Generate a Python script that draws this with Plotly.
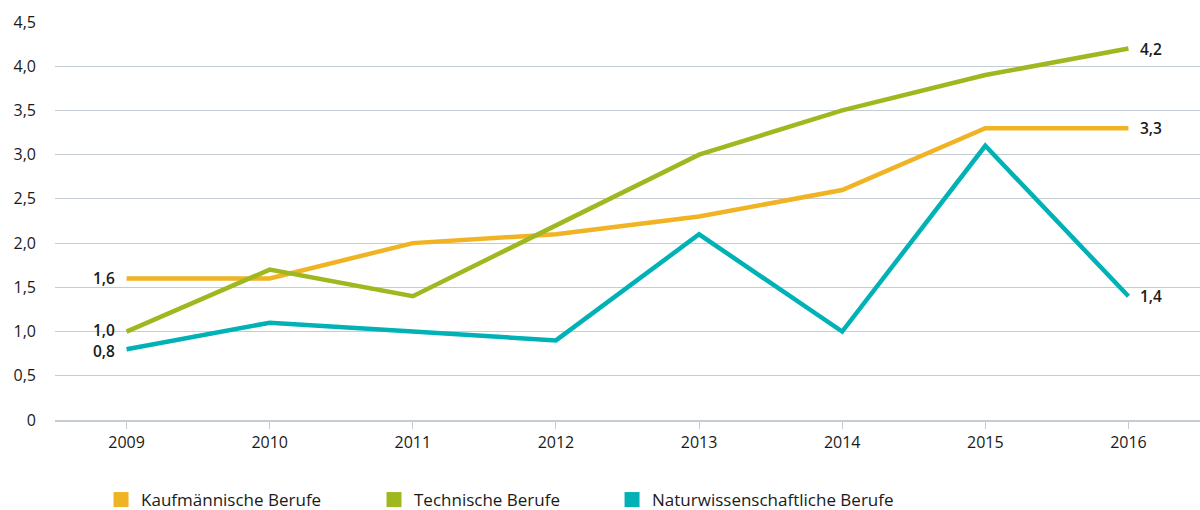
import plotly.graph_objects as go

years = ["2009", "2010", "2011", "2012", "2013", "2014", "2015", "2016"]
kaufm = [1.6, 1.6, 2.0, 2.1, 2.3, 2.6, 3.3, 3.3]
techn = [1.0, 1.7, 1.4, 2.2, 3.0, 3.5, 3.9, 4.2]
natur = [0.8, 1.1, 1.0, 0.9, 2.1, 1.0, 3.1, 1.4]
names = ["Kaufmännische Berufe", "Technische Berufe", "Naturwissenschaftliche Berufe"]
colors = ["#F0B323", "#9FB81F", "#00B2B6"]
ytickvals = [0, 0.5, 1.0, 1.5, 2.0, 2.5, 3.0, 3.5, 4.0, 4.5]
yticktext = ["0", "0,5", "1,0", "1,5", "2,0", "2,5", "3,0", "3,5", "4,0", "4,5"]

FONT = "Open Sans, Roboto, sans-serif"
legend_x = [0.0402, 0.2786, 0.4865]
start_yshift = [0, 2, -2]

def fmt(v):
    return f"{v:.1f}".replace(".", ",")

fig = go.Figure()
annotations = []
for i, (name, vals, col) in enumerate(zip(names, [kaufm, techn, natur], colors)):
    lg = "legend" if i == 0 else f"legend{i+1}"
    fig.add_trace(go.Scatter(
        x=years, y=vals, mode="lines", name=name,
        line=dict(color=col, width=4.5),
        showlegend=False, hoverinfo="skip",
    ))
    fig.add_trace(go.Scatter(
        x=[None], y=[None], mode="markers", name=name,
        marker=dict(symbol="square", size=15, color=col),
        showlegend=True, legend=lg,
    ))
    annotations.append(dict(x=0, y=vals[0], xref="x", yref="y", text=fmt(vals[0]),
                            showarrow=False, xanchor="right", xshift=-10, yshift=start_yshift[i],
                            font=dict(size=15.5, color="#1a1a1a", family=FONT, weight=600)))
    annotations.append(dict(x=len(years) - 1, y=vals[-1], xref="x", yref="y", text=fmt(vals[-1]),
                            showarrow=False, xanchor="left", xshift=10,
                            font=dict(size=15.5, color="#1a1a1a", family=FONT, weight=600)))

legend_common = dict(orientation="h", xanchor="left", yref="container", y=0.0196,
                     yanchor="middle", bgcolor="rgba(0,0,0,0)",
                     font=dict(size=17, family=FONT, color="#1a1a1a"))

fig.update_layout(
    width=1200, height=510,
    margin=dict(l=55, r=0, t=22, b=90),
    plot_bgcolor="white", paper_bgcolor="white",
    font=dict(family=FONT, size=16, color="#1a1a1a"),
    legend=dict(x=legend_x[0], **legend_common),
    legend2=dict(x=legend_x[1], **legend_common),
    legend3=dict(x=legend_x[2], **legend_common),
    annotations=annotations,
    xaxis=dict(type="category", range=[-0.5, 7.5], showgrid=False,
               showline=True, linecolor="#c5ccd3", linewidth=1.5,
               ticks="outside", ticklen=7, tickcolor="#c5ccd3",
               tickfont=dict(size=16), fixedrange=True, automargin=False),
    yaxis=dict(range=[0, 4.5], tickvals=ytickvals, ticktext=yticktext,
               showgrid=True, gridcolor="#c5ccd3", gridwidth=1.2,
               zeroline=False, ticks="", ticklabelstandoff=18,
               tickfont=dict(size=16), automargin=False, fixedrange=True),
)

fig.write_html("out.html", config={"displayModeBar": False},
               post_script="document.body.style.margin='0';document.body.style.padding='0';")
